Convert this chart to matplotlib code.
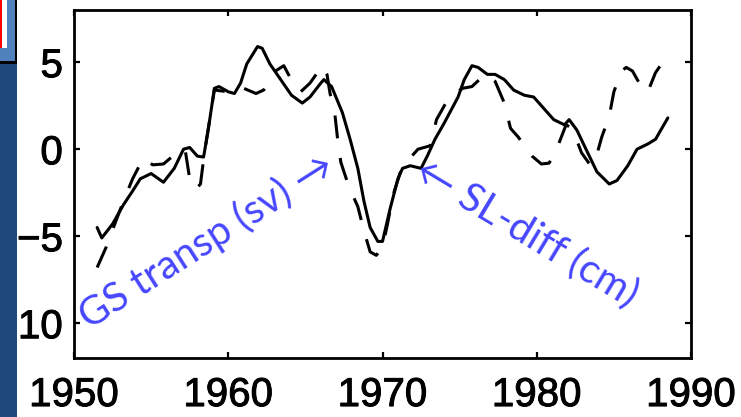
import matplotlib
matplotlib.use("Agg")
import matplotlib.pyplot as plt
import matplotlib.patheffects as pe
from matplotlib.patches import Rectangle

# Solid curve: Gulf Stream transport anomaly
gs_years = [1951.5, 1951.8, 1952.5, 1953.2, 1953.8, 1954.3, 1955.0, 1955.8, 1956.5,
            1957.1, 1957.5, 1958.0, 1958.4, 1958.7, 1959.1, 1959.4, 1960.0, 1960.4,
            1960.8, 1961.2, 1961.9, 1962.2, 1962.7, 1963.4, 1964.1, 1964.8, 1965.3,
            1966.0, 1966.2, 1966.7, 1967.4, 1967.9, 1968.4, 1968.8, 1969.2, 1969.7,
            1970.0, 1970.5, 1971.0, 1971.3, 1971.8, 1972.5, 1972.9, 1973.4, 1974.0,
            1974.9, 1975.3, 1975.8, 1976.2, 1976.8, 1977.3, 1977.9, 1978.5, 1979.2,
            1979.8, 1980.5, 1981.1, 1981.8, 1982.1, 1982.6, 1983.3, 1983.9, 1984.7,
            1985.2, 1985.9, 1986.5, 1987.2, 1987.7, 1988.5]
gs_values = [-4.5, -5.1, -4.3, -3.2, -2.4, -1.7, -1.4, -1.9, -1.1,
             0.0, 0.1, -0.4, -0.45, 1.1, 3.5, 3.6, 3.3, 3.2,
             3.8, 4.9, 5.9, 5.8, 4.9, 4.0, 3.1, 2.65, 3.0,
             3.8, 4.0, 3.6, 2.1, 0.57, -1.1, -3.0, -4.5, -5.3,
             -5.3, -3.4, -1.7, -1.1, -0.95, -1.1, -0.4, 0.57, 1.5,
             3.0, 4.0, 4.8, 4.7, 4.3, 4.3, 4.0, 3.4, 3.1,
             3.0, 2.3, 1.7, 1.4, 1.7, 1.1, -0.2, -1.3, -2.0,
             -1.8, -0.95, 0.0, 0.3, 0.57, 1.8]

# Dashed curve: sea-level difference
sl_years = [1951.5, 1952.1, 1952.6, 1953.2, 1953.8, 1954.5, 1955.1, 1955.8, 1956.4,
            1956.9, 1957.2, 1957.5, 1957.9, 1958.2, 1958.4, 1958.6, 1959.1, 1960.0,
            1961.0, 1961.8, 1962.3, 1962.9, 1963.6, 1964.2, 1964.7, 1965.3, 1966.1,
            1966.4, 1966.6, 1966.9, 1967.1, 1967.3, 1967.8, 1968.4, 1968.8, 1969.2,
            1969.6, 1970.0, 1970.3, 1970.7, 1971.2, 1971.8, 1972.3, 1972.7, 1973.1,
            1973.5, 1974.2, 1974.7, 1975.2, 1975.8, 1976.4, 1976.8, 1977.3, 1977.9,
            1978.3, 1978.8, 1979.2, 1979.7, 1980.3, 1980.8, 1981.2, 1981.9, 1982.3,
            1982.9, 1983.5, 1983.9, 1984.2, 1984.7, 1985.0, 1985.5, 1985.8, 1986.2,
            1986.9, 1987.2, 1987.7, 1988.4]
sl_values = [-6.8, -5.6, -4.4, -3.0, -1.7, -0.5, -0.9, -0.85, -0.4,
             -0.1, 0.0, -1.7, -2.3, -2.0, -0.6, 0.6, 3.4, 3.3,
             3.5, 3.2, 3.4, 4.4, 4.8, 3.8, 3.3, 3.8, 4.8,
             4.3, 3.2, 2.1, 0.5, -0.75, -2.1, -3.3, -4.7, -5.9,
             -6.1, -5.6, -4.4, -2.6, -1.2, -0.5, 0.0, 0.1, 0.2,
             1.7, 2.8, 3.2, 3.5, 3.6, 4.1, 4.3, 3.9, 2.65,
             1.2, 0.7, 0.2, -0.4, -0.85, -0.8, -0.2, 1.4, 1.2,
             -0.2, -0.95, -0.3, 0.66, 1.9, 3.3, 4.5, 4.7, 4.5,
             3.4, 3.3, 4.4, 5.3]

x_ticks = [1950, 1960, 1970, 1980, 1990]
y_ticks = [5, 0, -5, -10]

W, H = 741, 417
fig = plt.figure(figsize=(W / 100, H / 100), dpi=100)
fig.patch.set_facecolor("white")
ax = fig.add_axes([74 / W, 1 - 358 / H, (691 - 74) / W, (358 - 10) / H])

ax.plot(gs_years, gs_values, color="black", lw=2.2, solid_joinstyle="round",
        solid_capstyle="round")
ax.plot(sl_years, sl_values, color="black", lw=2.2, linestyle=(0, (7.5, 6.5)))

ax.set_xlim(1950, 1990)
ax.set_ylim(-12, 8)
ax.set_xticks(x_ticks)
ax.set_yticks(y_ticks)
ax.set_xticklabels([str(t) for t in x_ticks])
ax.set_yticklabels([f"{t}".replace("-", "\u2212") for t in y_ticks])

for s in ax.spines.values():
    s.set_linewidth(2.0)
ax.tick_params(direction="in", length=4, width=1.6, top=True, right=True,
               labelsize=29)
ax.tick_params(axis="x", pad=13)
ax.tick_params(axis="y", pad=8)
heavy = [pe.withStroke(linewidth=0.7, foreground="black")]
for lab in ax.get_xticklabels() + ax.get_yticklabels():
    lab.set_family(["Liberation Sans", "DejaVu Sans"])
    lab.set_path_effects(heavy)

blue = "#4646ff"
ax.text(1966.6, -0.75, "GS transp (sv) \u2192", rotation=32.5,
        rotation_mode="anchor", ha="right", va="center",
        fontsize=29, color=blue, family=["Lato", "DejaVu Sans"])
ax.text(1972.3, -1.05, "\u2190 SL-diff (cm)", rotation=-31,
        rotation_mode="anchor", ha="left", va="center",
        fontsize=29, color=blue, family=["Lato", "DejaVu Sans"])

# slide strip along the left edge
fig.patches.append(Rectangle((0, 0), 17 / W, 1, transform=fig.transFigure,
                             facecolor="#1f497d", edgecolor="none", zorder=10))
fig.patches.append(Rectangle((0, 1 - 64 / H), 17 / W, 64 / H, transform=fig.transFigure,
                             facecolor="black", edgecolor="none", zorder=11))
fig.patches.append(Rectangle((0, 1 - 61 / H), 15 / W, 61 / H, transform=fig.transFigure,
                             facecolor="#4f81bd", edgecolor="none", zorder=12))
fig.patches.append(Rectangle((0, 1 - 48 / H), 7 / W, 48 / H, transform=fig.transFigure,
                             facecolor="white", edgecolor="none", zorder=13))
fig.patches.append(Rectangle((0, 1 - 48 / H), 2 / W, 48 / H, transform=fig.transFigure,
                             facecolor="#ff0000", edgecolor="none", zorder=14))

fig.savefig("out.png", dpi=100)
